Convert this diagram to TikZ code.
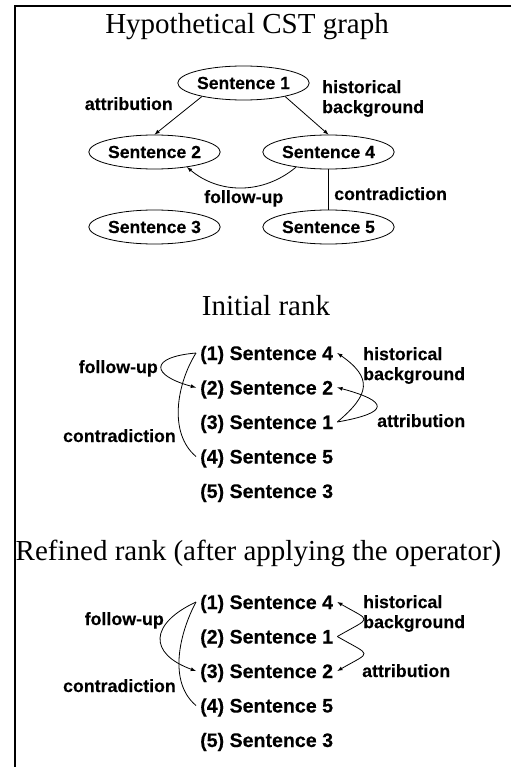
\documentclass[tikz,border=0pt]{standalone}
\usepackage{fontspec}
\setmainfont{Liberation Serif}
\setsansfont{Liberation Sans}[FakeBold=0.2]
\usetikzlibrary{shapes.geometric}

\begin{document}
\begin{tikzpicture}[x=1pt,y=1pt,>=latex,
    sent/.style={draw,ellipse,line width=0.8pt,minimum width=125pt,minimum height=34pt,inner sep=0pt,font=\sffamily\bfseries\fontsize{17.6}{20}\selectfont},
    item/.style={anchor=base west,inner xsep=4pt,text height=14pt,text depth=0pt,font=\sffamily\bfseries\fontsize{19.6}{22}\selectfont},
    lbl/.style={anchor=base west,inner sep=0pt,font=\sffamily\bfseries\fontsize{17.8}{20}\selectfont},
    lblr/.style={lbl,anchor=base east},
    lbl2/.style={anchor=north west,inner sep=0pt,align=left,font=\sffamily\bfseries\fontsize{17.8}{20}\selectfont},
    ttl/.style={anchor=base,inner sep=0pt,font=\fontsize{29}{33}\selectfont},
    rel/.style={line width=0.8pt}]

    % Frame
    \useasboundingbox (0,0) rectangle (511,-767);
    \draw[line width=2pt] (511,-6.3) -- (15,-6.3) -- (15,-767);

    % Hypothetical CST graph
    \node[ttl] (t1) at (247,-34) {Hypothetical CST graph};
    \node[sent] (s1) at (243.5,-83) {Sentence 1};
    \node[sent] (s2) at (154.5,-152) {Sentence 2};
    \node[sent] (s4) at (328.5,-152) {Sentence 4};
    \node[sent] (s3) at (154.5,-227) {Sentence 3};
    \node[sent] (s5) at (328.5,-227) {Sentence 5};

    \draw[rel,->] (s1.198) -- (s2.north);
    \draw[rel,->] (s1.-18) -- (s4.north);
    \draw[rel,->] (s4.205) to[bend left=40] (s2.-25);
    \draw[rel] (s4) -- (s5);

    \node[lblr] (g1) at (173,-110) {attribution};
    \node[lbl2] (g2) at (322,-80) {historical\\background};
    \node[lbl] (g3) at (204,-203) {follow-up};
    \node[lbl] (g4) at (334,-200) {contradiction};

    % Initial rank
    \node[ttl] (t2) at (266,-315) {Initial rank};
    \node[item] (a1) at (196,-360) {(1) Sentence 4};
    \node[item] (a2) at (196,-394.5) {(2) Sentence 2};
    \node[item] (a3) at (196,-429) {(3) Sentence 1};
    \node[item] (a4) at (196,-463.5) {(4) Sentence 5};
    \node[item] (a5) at (196,-498) {(5) Sentence 3};

    \draw[rel,->] (a1.west) to[out=185,in=165,looseness=3.5] (a2.west);
    \draw[rel] (a1.west) to[out=238,in=140,looseness=0.9] (a4.west);
    \draw[rel,->] (a3.east) to[out=40,in=-35,looseness=1.6] (a1.east);
    \draw[rel,->] (a3.east) to[out=10,in=-15,looseness=4] (a2.east);

    \node[lblr] (h1) at (158,-373) {follow-up};
    \node[lblr] (h2) at (176,-442) {contradiction};
    \node[lbl2] (h3) at (363,-347) {historical\\background};
    \node[lbl] (h4) at (377,-427) {attribution};

    % Refined rank
    \node[ttl] (t3) at (258.5,-560) {Refined rank (after applying the operator)};
    \node[item] (b1) at (196,-609) {(1) Sentence 4};
    \node[item] (b2) at (196,-643.5) {(2) Sentence 1};
    \node[item] (b3) at (196,-678) {(3) Sentence 2};
    \node[item] (b4) at (196,-712.5) {(4) Sentence 5};
    \node[item] (b5) at (196,-747) {(5) Sentence 3};

    \draw[rel,->] (b1.west) to[out=205,in=160,looseness=1.9] (b3.west);
    \draw[rel] (b1.west) to[out=242,in=140,looseness=0.9] (b4.west);
    \draw[rel,->] (b2.east) to[out=30,in=-30,looseness=3] (b1.east);
    \draw[rel,->] (b2.east) to[out=-30,in=30,looseness=3] (b3.east);

    \node[lblr] (k1) at (164,-625) {follow-up};
    \node[lblr] (k2) at (176,-692) {contradiction};
    \node[lbl2] (k3) at (363,-595) {historical\\background};
    \node[lbl] (k4) at (362,-677) {attribution};
\end{tikzpicture}
\end{document}
